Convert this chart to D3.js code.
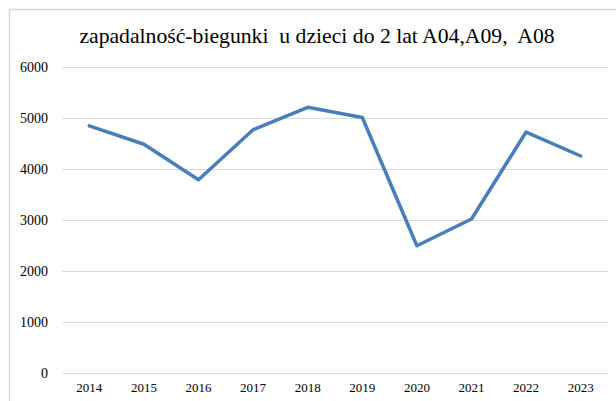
<!DOCTYPE html>
<meta charset="utf-8">
<script src="https://d3js.org/d3.v7.min.js"></script>
<div id="dataVis"></div>
<script>

    // data
    var years = ["2014", "2015", "2016", "2017", "2018", "2019", "2020", "2021", "2022", "2023"];
    var values = [4845, 4485, 3790, 4770, 5210, 5010, 2495, 3020, 4725, 4255];
    var yTicks = [0, 1000, 2000, 3000, 4000, 5000, 6000];
    var title = "zapadalność-biegunki  u dzieci do 2 lat A04,A09,  A08";

    var width = 616, height = 401;
    var margin = { top: 67, right: 8, bottom: 28, left: 62 };

    var svg = d3.select("#dataVis")
        .append("svg")
        .attr("width", width)
        .attr("height", height)
        .attr("font-family", "Liberation Serif")
        .style("position", "absolute")
        .style("left", "0px")
        .style("top", "0px");

    // chart border (runs off the right and bottom edge)
    svg.append("rect")
        .attr("x", 9.5).attr("y", 9.5)
        .attr("width", 640).attr("height", 420)
        .attr("fill", "none")
        .attr("stroke", "#d9d9d9")
        .attr("stroke-width", 1.5);

    var x = d3.scaleBand()
        .domain(years)
        .range([margin.left, width - margin.right]);

    var y = d3.scaleLinear()
        .domain([0, 6000])
        .range([height - margin.bottom, margin.top]);

    // gridlines
    svg.append("g")
        .selectAll("line")
        .data(yTicks)
        .enter()
        .append("line")
        .attr("x1", margin.left)
        .attr("x2", width - margin.right)
        .attr("y1", function (d) { return Math.round(y(d)) + 0.5; })
        .attr("y2", function (d) { return Math.round(y(d)) + 0.5; })
        .attr("stroke", "#d9d9d9")
        .attr("stroke-width", 1);

    // y labels
    svg.append("g")
        .selectAll("text")
        .data(yTicks)
        .enter()
        .append("text")
        .attr("x", 48)
        .attr("y", function (d) { return y(d) + 5; })
        .attr("text-anchor", "end")
        .style("font-family", "Liberation Serif")
        .style("font-size", "14px")
        .text(function (d) { return d; });

    // x labels
    svg.append("g")
        .selectAll("text")
        .data(years)
        .enter()
        .append("text")
        .attr("x", function (d) { return x(d) + x.bandwidth() / 2; })
        .attr("y", 392)
        .attr("text-anchor", "middle")
        .style("font-family", "Liberation Serif")
        .style("font-size", "13px")
        .text(function (d) { return d; });

    // line
    var line = d3.line()
        .x(function (d, i) { return x(years[i]) + x.bandwidth() / 2; })
        .y(function (d) { return y(d); });

    svg.append("path")
        .datum(values)
        .attr("fill", "none")
        .attr("stroke", "#4a7ebb")
        .attr("stroke-width", 3.5)
        .attr("stroke-linejoin", "round")
        .attr("stroke-linecap", "round")
        .attr("d", line);

    // title
    svg.append("text")
        .attr("x", 317)
        .attr("y", 43)
        .attr("text-anchor", "middle")
        .style("font-family", "Liberation Serif")
        .style("font-size", "21.7px")
        .text(title.replace(/  /g, "\u00a0 "));

</script>
